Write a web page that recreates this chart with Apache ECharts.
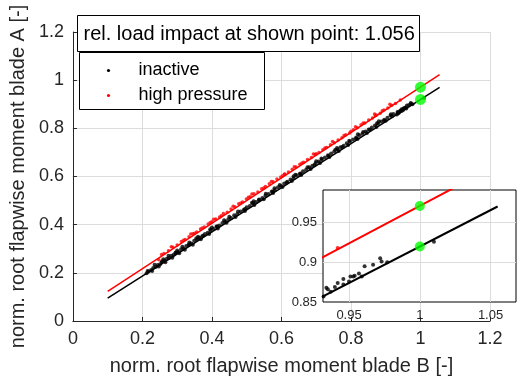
<!DOCTYPE html>
<html>
<head>
<meta charset="utf-8">
<script src="https://cdn.jsdelivr.net/npm/echarts@6.0.0/dist/echarts.min.js"></script>
<style>
	html, body { margin: 0; padding: 0; background: #fff; }
	#chart { width: 524px; height: 383px; }
</style>
</head>
<body>
<div id="chart"></div>
<script>
// 散点：叶片B / 叶片A 归一化根部挥舞弯矩
var inactivePoints = [
	[0.212, 0.198], [0.215, 0.208], [0.218, 0.206], [0.225, 0.212], [0.228, 0.208], [0.231, 0.220],
	[0.235, 0.234], [0.238, 0.224], [0.244, 0.233], [0.247, 0.226], [0.251, 0.236], [0.255, 0.245],
	[0.257, 0.247], [0.260, 0.256], [0.263, 0.250], [0.266, 0.244], [0.270, 0.258], [0.275, 0.271],
	[0.276, 0.262], [0.283, 0.271], [0.286, 0.263], [0.290, 0.275], [0.295, 0.282], [0.296, 0.284],
	[0.300, 0.293], [0.303, 0.287], [0.306, 0.281], [0.311, 0.298], [0.315, 0.308], [0.318, 0.301],
	[0.322, 0.296], [0.326, 0.311], [0.333, 0.317], [0.335, 0.326], [0.335, 0.318], [0.341, 0.322],
	[0.345, 0.317], [0.349, 0.333], [0.355, 0.344], [0.357, 0.338], [0.360, 0.350], [0.364, 0.346],
	[0.368, 0.339], [0.372, 0.352], [0.375, 0.355], [0.380, 0.361], [0.388, 0.366], [0.392, 0.361],
	[0.395, 0.381], [0.396, 0.376], [0.400, 0.388], [0.405, 0.382], [0.413, 0.392], [0.415, 0.392],
	[0.417, 0.384], [0.421, 0.397], [0.430, 0.407], [0.435, 0.418], [0.438, 0.413], [0.442, 0.408],
	[0.447, 0.422], [0.450, 0.433], [0.455, 0.428], [0.464, 0.439], [0.468, 0.432], [0.473, 0.444],
	[0.475, 0.455], [0.482, 0.455], [0.491, 0.461], [0.495, 0.457], [0.495, 0.465], [0.500, 0.472],
	[0.509, 0.478], [0.515, 0.491], [0.518, 0.489], [0.520, 0.497], [0.522, 0.482], [0.527, 0.494],
	[0.535, 0.502], [0.536, 0.505], [0.545, 0.511], [0.549, 0.506], [0.554, 0.521], [0.555, 0.528],
	[0.563, 0.527], [0.572, 0.538], [0.575, 0.538], [0.576, 0.531], [0.580, 0.551], [0.581, 0.544],
	[0.590, 0.555], [0.595, 0.565], [0.599, 0.561], [0.603, 0.556], [0.608, 0.571], [0.615, 0.575],
	[0.617, 0.578], [0.626, 0.588], [0.630, 0.581], [0.635, 0.594], [0.635, 0.601], [0.640, 0.607],
	[0.644, 0.605], [0.653, 0.611], [0.655, 0.612], [0.657, 0.606], [0.662, 0.622], [0.671, 0.628],
	[0.675, 0.638], [0.680, 0.638], [0.684, 0.631], [0.689, 0.645], [0.695, 0.648], [0.698, 0.655],
	[0.700, 0.663], [0.707, 0.662], [0.711, 0.656], [0.715, 0.675], [0.716, 0.671], [0.725, 0.679],
	[0.734, 0.688], [0.735, 0.685], [0.738, 0.681], [0.743, 0.695], [0.752, 0.704], [0.755, 0.711],
	[0.760, 0.718], [0.761, 0.712], [0.765, 0.706], [0.770, 0.721], [0.775, 0.722], [0.779, 0.728],
	[0.788, 0.738], [0.792, 0.731], [0.795, 0.748], [0.797, 0.745], [0.806, 0.754], [0.815, 0.762],
	[0.815, 0.758], [0.819, 0.756], [0.820, 0.775], [0.824, 0.771], [0.833, 0.778], [0.835, 0.785],
	[0.842, 0.787], [0.846, 0.781], [0.851, 0.795], [0.855, 0.795], [0.860, 0.803], [0.869, 0.812],
	[0.873, 0.806], [0.875, 0.821], [0.878, 0.820], [0.880, 0.829], [0.887, 0.828], [0.895, 0.832],
	[0.896, 0.836], [0.900, 0.831], [0.905, 0.844], [0.914, 0.853], [0.915, 0.858], [0.918, 0.850],
	[0.922, 0.860], [0.932, 0.857], [0.934, 0.868], [0.935, 0.866], [0.937, 0.863], [0.940, 0.869],
	[0.942, 0.874], [0.946, 0.879], [0.946, 0.872], [0.950, 0.876], [0.951, 0.882], [0.953, 0.882],
	[0.954, 0.883], [0.957, 0.886], [0.959, 0.882], [0.961, 0.895], [0.967, 0.897], [0.972, 0.905],
	[0.973, 0.901], [0.977, 0.900], [1.010, 0.926]
];
var highPressurePoints = [
	[0.247, 0.254], [0.255, 0.276], [0.262, 0.280], [0.275, 0.292], [0.283, 0.308], [0.288, 0.306],
	[0.300, 0.316], [0.312, 0.330], [0.318, 0.335], [0.323, 0.338], [0.334, 0.350], [0.339, 0.361],
	[0.345, 0.362], [0.350, 0.364], [0.356, 0.370], [0.367, 0.382], [0.372, 0.386], [0.378, 0.390],
	[0.389, 0.403], [0.395, 0.409], [0.400, 0.412], [0.405, 0.423], [0.411, 0.424], [0.422, 0.432],
	[0.427, 0.437], [0.433, 0.446], [0.444, 0.452], [0.455, 0.465], [0.461, 0.476], [0.466, 0.474],
	[0.477, 0.487], [0.483, 0.490], [0.488, 0.494], [0.499, 0.507], [0.505, 0.514], [0.510, 0.516],
	[0.515, 0.527], [0.521, 0.528], [0.532, 0.536], [0.543, 0.549], [0.549, 0.552], [0.554, 0.558],
	[0.565, 0.570], [0.571, 0.579], [0.576, 0.578], [0.587, 0.590], [0.598, 0.598], [0.604, 0.604],
	[0.609, 0.610], [0.610, 0.609], [0.620, 0.619], [0.631, 0.630], [0.637, 0.641], [0.642, 0.639],
	[0.653, 0.651], [0.659, 0.656], [0.664, 0.659], [0.675, 0.671], [0.686, 0.679], [0.692, 0.693],
	[0.697, 0.691], [0.700, 0.694], [0.708, 0.700], [0.719, 0.711], [0.725, 0.718], [0.730, 0.720],
	[0.741, 0.732], [0.747, 0.745], [0.752, 0.740], [0.763, 0.752], [0.774, 0.761], [0.780, 0.770],
	[0.785, 0.773], [0.796, 0.781], [0.800, 0.788], [0.807, 0.794], [0.813, 0.807], [0.818, 0.802],
	[0.829, 0.815], [0.835, 0.822], [0.840, 0.822], [0.851, 0.835], [0.862, 0.843], [0.868, 0.859],
	[0.870, 0.852], [0.873, 0.855], [0.884, 0.863], [0.890, 0.873], [0.895, 0.876], [0.906, 0.884],
	[0.912, 0.900], [0.917, 0.896], [0.928, 0.903], [0.942, 0.918]
];
// 拟合直线（两端点）
var inactiveFit = [[0.1, 0.0947], [1.055, 0.9704]];
var highPressureFit = [[0.1, 0.123], [1.055, 1.023]];
// 绿色标记点
var shownPoints = [[1, 0.971], [1, 0.920]];
// 坐标范围
var mainRange = [0, 1.2];
var insetX = [0.9316, 1.068];
var insetY = [0.85, 0.9912];

var titleText = 'rel. load impact at shown point: 1.056';
var legendData = ['inactive', 'high pressure'];
var colors = ['#000000', '#ff0000'];

var font = '"Liberation Sans", Arial, Helvetica, sans-serif';
var dark = '#262626';
var gridColor = '#dcdcdc';

var myChart = echarts.init(document.getElementById('chart'));

function scatter(name, data, color, size, idx, z) {
	return {
		name: name, type: 'scatter', data: data,
		xAxisIndex: idx, yAxisIndex: idx, z: z,
		symbol: 'circle', symbolSize: size, clip: true,
		itemStyle: { color: color }, silent: true
	};
}
function fitLine(name, data, color, width, idx, z) {
	return {
		name: name, type: 'line', data: data,
		xAxisIndex: idx, yAxisIndex: idx, z: z,
		showSymbol: false, clip: true,
		lineStyle: { color: color, width: width }, silent: true
	};
}

// 图例（手绘框）
var legendChildren = [{
	type: 'rect', z: 100, shape: { x: 0, y: 0, width: 185, height: 57 },
	style: { fill: '#fff', stroke: '#000', lineWidth: 1 }
}];
for (var i = 0; i < legendData.length; i++) {
	legendChildren.push({
		type: 'circle', z: 101, shape: { cx: 29, cy: 18 + i * 25, r: 1.6 },
		style: { fill: colors[i] }
	});
	legendChildren.push({
		type: 'text', z: 101, x: 59, y: 18 + i * 25,
		style: { text: legendData[i], fontSize: 18, fontFamily: font, fill: '#000', verticalAlign: 'middle' }
	});
}

var option = {
	animation: false,
	backgroundColor: '#fff',
	textStyle: { fontFamily: font },
	grid: [
		{ left: 62, top: 32, width: 428, height: 289 },
		// 局部放大图
		{ left: 323, top: 190, width: 193, height: 112, show: true, backgroundColor: '#fff',
		  borderColor: '#000', borderWidth: 1, z: 5 }
	],
	xAxis: [{
		gridIndex: 0, type: 'value', min: mainRange[0], max: mainRange[1], interval: 0.2,
		name: 'norm. root flapwise moment blade B [-]', nameLocation: 'middle', nameGap: 35,
		nameTextStyle: { fontSize: 20, color: dark, fontFamily: font },
		axisLine: { show: true, lineStyle: { color: dark, width: 1 } },
		axisTick: { show: true, inside: true, length: 4, lineStyle: { color: dark } },
		axisLabel: { fontSize: 18, color: dark, margin: 9, fontFamily: font },
		splitLine: { show: true, lineStyle: { color: gridColor, width: 1 } }
	}, {
		gridIndex: 1, type: 'value', min: insetX[0], max: insetX[1], splitNumber: 3, z: 5,
		axisLine: { show: false },
		axisTick: { show: false },
		axisLabel: { fontSize: 13, color: dark, margin: 7, showMinLabel: false, showMaxLabel: false, fontFamily: font },
		splitLine: { show: true, showMinLine: false, showMaxLine: false, lineStyle: { color: gridColor, width: 1 } }
	}],
	yAxis: [{
		gridIndex: 0, type: 'value', min: mainRange[0], max: mainRange[1], interval: 0.2,
		name: 'norm. root flapwise moment blade A [-]', nameLocation: 'middle', nameGap: 36,
		nameTextStyle: { fontSize: 20, color: dark, fontFamily: font },
		axisLine: { show: true, lineStyle: { color: dark, width: 1 } },
		axisTick: { show: true, inside: true, length: 4, lineStyle: { color: dark } },
		axisLabel: { fontSize: 18, color: dark, margin: 9, fontFamily: font },
		splitLine: { show: true, lineStyle: { color: gridColor, width: 1 } }
	}, {
		gridIndex: 1, type: 'value', min: insetY[0], max: insetY[1], splitNumber: 3, z: 5,
		axisLine: { show: false },
		axisTick: { show: false },
		axisLabel: { fontSize: 13, color: dark, margin: 6, showMaxLabel: false, fontFamily: font },
		splitLine: { show: true, showMinLine: false, showMaxLine: false, lineStyle: { color: gridColor, width: 1 } }
	}],
	graphic: [{
		type: 'group', left: 77, top: 15, z: 100,
		children: [{
			type: 'rect', z: 100, shape: { x: 0, y: 0, width: 342, height: 36 },
			style: { fill: '#fff', stroke: '#000', lineWidth: 1 }
		}, {
			type: 'text', z: 101, x: 6, y: 19,
			style: { text: titleText, fontSize: 20, fontFamily: font, fill: '#000', verticalAlign: 'middle' }
		}]
	}, {
		type: 'group', left: 79, top: 52, z: 100,
		children: legendChildren
	}],
	series: [
		fitLine('fit inactive', inactiveFit, colors[0], 1.5, 0, 2),
		fitLine('fit high pressure', highPressureFit, colors[1], 1.5, 0, 2),
		scatter(legendData[0], inactivePoints, colors[0], 4, 0, 3),
		scatter(legendData[1], highPressurePoints, colors[1], 3.5, 0, 3),
		scatter('shown point', shownPoints, '#00ff00', 11, 0, 4),
		// 局部放大
		fitLine('fit inactive', inactiveFit, colors[0], 2, 1, 6),
		fitLine('fit high pressure', highPressureFit, colors[1], 2, 1, 6),
		scatter(legendData[0], inactivePoints, colors[0], 4, 1, 7),
		scatter(legendData[1], highPressurePoints, colors[1], 4, 1, 7),
		scatter('shown point', shownPoints, '#00ff00', 10, 1, 8)
	]
};

myChart.setOption(option);
</script>
</body>
</html>
